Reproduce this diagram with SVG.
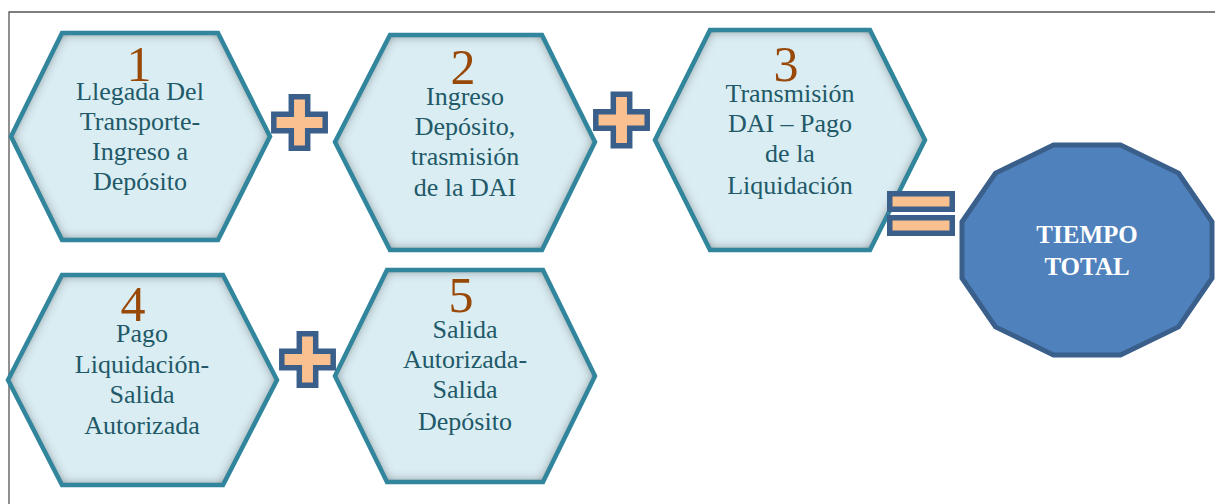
<svg xmlns="http://www.w3.org/2000/svg" width="1215" height="504" viewBox="0 0 1215 504">
<style>
.hexfill{fill:#DAEDF3;filter:url(#inner);}
.hexline{fill:none;stroke:#31859C;stroke-width:4.5;stroke-linejoin:miter;}
.num{font-family:"Liberation Serif","Times New Roman",serif;font-size:50px;fill:#984807;text-anchor:middle;}
.lbl{font-family:"Liberation Serif","Times New Roman",serif;font-size:26px;fill:#215968;text-anchor:middle;}
.op{fill:#FAC08F;stroke:#3A5F8B;stroke-width:5.5;stroke-linejoin:miter;}
.total{fill:#4F81BD;stroke:#3A5F8B;stroke-width:5;}
.tlbl{font-family:"Liberation Serif","Times New Roman",serif;font-size:25px;font-weight:bold;fill:#FFFFFF;text-anchor:middle;}
</style>
<defs>
<filter id="inner" x="-10%" y="-10%" width="120%" height="120%">
<feFlood flood-color="#3c3c3c" result="f"/>
<feComposite in="f" in2="SourceAlpha" operator="out" result="o"/>
<feGaussianBlur in="o" stdDeviation="6" result="b"/>
<feComposite in="b" in2="SourceAlpha" operator="in" result="s"/>
<feMerge><feMergeNode in="SourceGraphic"/><feMergeNode in="s"/></feMerge>
</filter>
<path id="plus" d="M-8.2,-25.7 H8.2 V-8.2 H25.7 V8.2 H8.2 V25.7 H-8.2 V8.2 H-25.7 V-8.2 H-8.2 Z"/>
</defs>
<rect width="1215" height="504" fill="#FFFFFF"/>
<path d="M9,504 V12 H1215" fill="none" stroke="#555555" stroke-width="1.3"/>

<g id="node1">
<polygon class="hexfill" points="62,33 218,33 270,136.5 218,240 62,240 11,136.5"/>
<polygon class="hexline" points="62,33 218,33 270,136.5 218,240 62,240 11,136.5"/>
<text class="num" x="139" y="81">1</text>
<text class="lbl" x="140" y="100">Llegada Del</text>
<text class="lbl" x="140" y="130">Transporte-</text>
<text class="lbl" x="140" y="160">Ingreso a</text>
<text class="lbl" x="140" y="190">Depósito</text>
</g>

<g id="node2">
<polygon class="hexfill" points="390,35 542,35 595,142 542,250 390,250 335,142"/>
<polygon class="hexline" points="390,35 542,35 595,142 542,250 390,250 335,142"/>
<text class="num" x="463" y="84">2</text>
<text class="lbl" x="465" y="105">Ingreso</text>
<text class="lbl" x="465" y="135">Depósito,</text>
<text class="lbl" x="465" y="165">trasmisión</text>
<text class="lbl" x="465" y="196">de la DAI</text>
</g>

<g id="node3">
<polygon class="hexfill" points="710,30 870,30 925,140 870,250 710,250 655,140"/>
<polygon class="hexline" points="710,30 870,30 925,140 870,250 710,250 655,140"/>
<text class="num" x="786" y="81">3</text>
<text class="lbl" x="790" y="102">Transmisión</text>
<text class="lbl" x="790" y="132">DAI – Pago</text>
<text class="lbl" x="790" y="162">de la</text>
<text class="lbl" x="790" y="194">Liquidación</text>
</g>

<g id="node4">
<polygon class="hexfill" points="62,275 223,275 277,380 223,485 62,485 8,380"/>
<polygon class="hexline" points="62,275 223,275 277,380 223,485 62,485 8,380"/>
<text class="num" x="133" y="321">4</text>
<text class="lbl" x="142" y="342">Pago</text>
<text class="lbl" x="142" y="373">Liquidación-</text>
<text class="lbl" x="142" y="403">Salida</text>
<text class="lbl" x="142" y="434">Autorizada</text>
</g>

<g id="node5">
<polygon class="hexfill" points="387,270 543,270 595,376 543,482 387,482 335,376"/>
<polygon class="hexline" points="387,270 543,270 595,376 543,482 387,482 335,376"/>
<text class="num" x="461" y="312">5</text>
<text class="lbl" x="465" y="338">Salida</text>
<text class="lbl" x="465" y="368">Autorizada-</text>
<text class="lbl" x="465" y="398">Salida</text>
<text class="lbl" x="465" y="430">Depósito</text>
</g>

<g id="total">
<polygon class="total" points="1120.5,145 1178.5,173.1 1212,221.9 1212,278.1 1178.5,326.9 1120.5,355 1053.5,355 995.5,326.9 962,278.1 962,221.9 995.5,173.1 1053.5,145"/>
<text class="tlbl" x="1087" y="243">TIEMPO</text>
<text class="tlbl" x="1087" y="275">TOTAL</text>
</g>

<g id="connectors">
<use href="#plus" class="op" transform="translate(299.5,122.5)"/>
<use href="#plus" class="op" transform="translate(621.5,120)"/>
<use href="#plus" class="op" transform="translate(307.5,359.5)"/>
<rect class="op" x="889.75" y="193.75" width="62.5" height="15.5"/>
<rect class="op" x="889.75" y="217.75" width="62.5" height="15.5"/>
</g>
</svg>
